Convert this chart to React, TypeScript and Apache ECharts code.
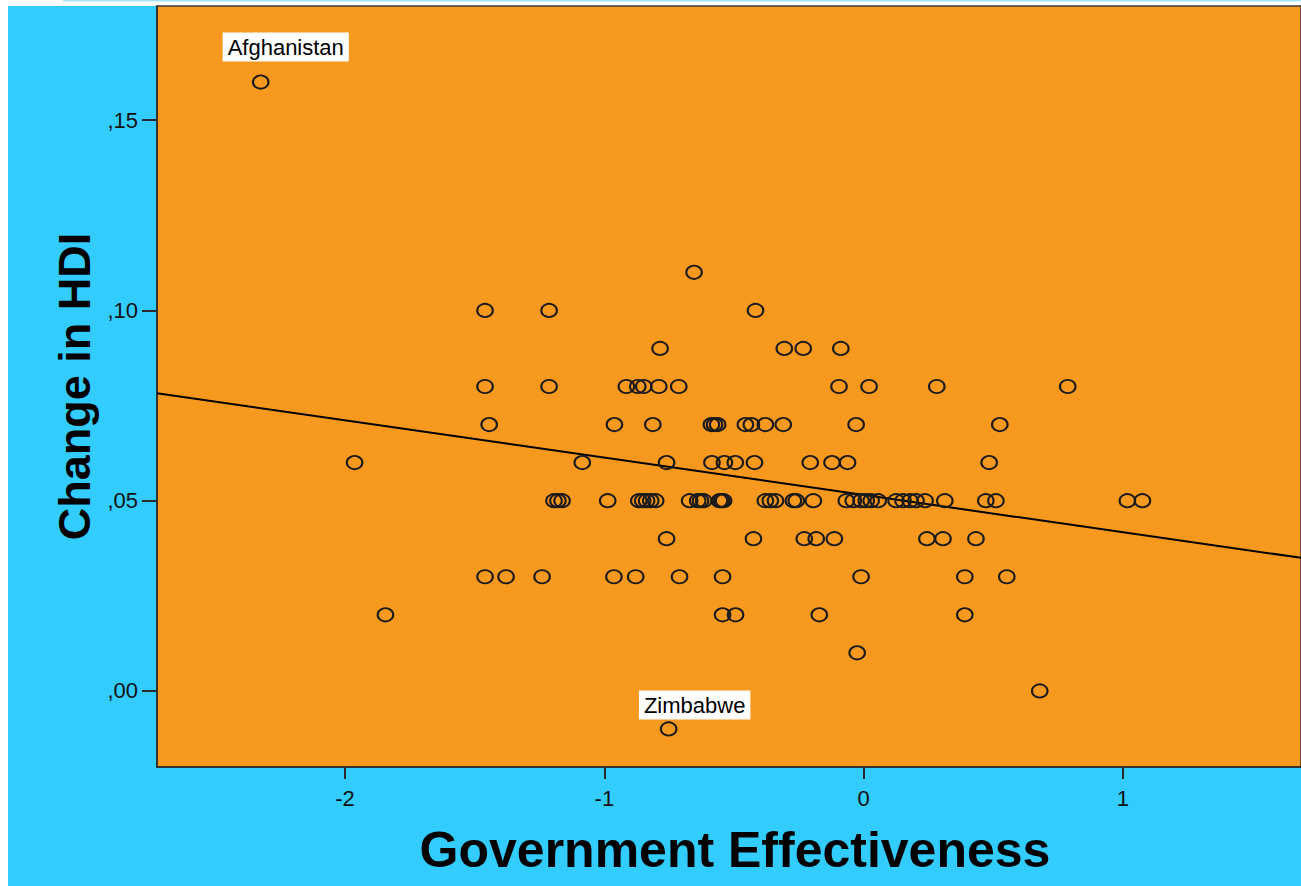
import React, { useEffect, useRef } from "react";
import * as echarts from "echarts";

// Axis ranges
const xMin = -2.725;
const xMax = 1.6865;
const yMin = -0.02;
const yMax = 0.18;
const xTickValues = [-2, -1, 0, 1];
const xTickLabels = ["-2", "-1", "0", "1"];
const yTickValues = [0, 0.05, 0.1, 0.15];
const yTickLabels = [",00", ",05", ",10", ",15"];

// Change in HDI levels and the Government Effectiveness values of the countries at each level
const hdiLevels = [0.11, 0.1, 0.09, 0.08, 0.07, 0.06, 0.05, 0.04, 0.03, 0.02, 0.01, 0.0];
const govEffAt011 = [-0.654];
const govEffAt010 = [-1.46, -1.213, -0.417];
const govEffAt009 = [-0.785, -0.306, -0.233, -0.088];
const govEffAt008 = [-1.46, -1.213, -0.915, -0.871, -0.848, -0.79, -0.713, -0.095, 0.021, 0.282, 0.787];
const govEffAt007 = [-1.444, -0.961, -0.813, -0.587, -0.575, -0.563, -0.456, -0.433, -0.379, -0.31, -0.029, 0.525];
const govEffAt006 = [-1.963, -1.085, -0.76, -0.585, -0.537, -0.495, -0.421, -0.206, -0.122, -0.062, 0.484];
const govEffAt005 = [
  -1.194, -1.179, -1.163, -0.987, -0.867, -0.852, -0.837, -0.821, -0.802, -0.671, -0.64, -0.629, -0.617,
  -0.556, -0.548, -0.54, -0.379, -0.36, -0.34, -0.271, -0.26, -0.194, -0.067, -0.04, -0.01, 0.01, 0.029,
  0.056, 0.125, 0.152, 0.179, 0.202, 0.237, 0.313, 0.471, 0.51, 1.017, 1.075,
];
const govEffAt004 = [-0.76, -0.425, -0.229, -0.183, -0.113, 0.244, 0.306, 0.433];
const govEffAt003 = [-1.46, -1.379, -1.24, -0.963, -0.879, -0.71, -0.544, -0.01, 0.39, 0.552];
const govEffAt002 = [-1.844, -0.544, -0.494, -0.171, 0.39];
const govEffAt001 = [-0.025];
const govEffAt000 = [0.679];
const govEffByLevel = [
  govEffAt011, govEffAt010, govEffAt009, govEffAt008, govEffAt007, govEffAt006,
  govEffAt005, govEffAt004, govEffAt003, govEffAt002, govEffAt001, govEffAt000,
];

// Labelled countries
const labelledNames = ["Afghanistan", "Zimbabwe"];
const labelledGovEff = [-2.325, -0.752];
const labelledHdi = [0.16, -0.01];

// Linear fit line
const fitIntercept = 0.0515;
const fitSlope = -0.0098;

const CYAN = "#33CCFF";
const ORANGE = "#F8991F";
const INK = "#1b1b1b";
const FONT = 'Arial, "Liberation Sans", sans-serif';

export default function App() {
  const ref = useRef<HTMLDivElement>(null);

  useEffect(() => {
    if (!ref.current) return;
    const chart = echarts.init(ref.current, undefined, { renderer: "svg" });

    const points: number[][] = [];
    hdiLevels.forEach((lvl, i) => {
      govEffByLevel[i].forEach((g) => points.push([g, lvl]));
    });

    const labelOffsets = [
      [25, -8],
      [26, 3],
    ];
    const labelled = labelledNames.map((name, i) => ({
      name,
      value: [labelledGovEff[i], labelledHdi[i]],
      label: {
        show: true,
        formatter: name,
        position: "top",
        offset: labelOffsets[i],
        backgroundColor: "#ffffff",
        opacity: 1,
        color: "#000",
        fontFamily: FONT,
        fontSize: 22,
        padding: [4, 5, 3, 5],
      },
    }));

    const fit = [
      [xMin, fitIntercept + fitSlope * xMin],
      [xMax, fitIntercept + fitSlope * xMax],
    ];

    const circleStyle = { color: "transparent", borderColor: INK, borderWidth: 2, opacity: 1 };
    const circleSize = [15.5, 13.2];

    chart.setOption({
      animation: false,
      backgroundColor: "#ffffff",
      graphic: [
        { type: "rect", z: -10, shape: { x: 8, y: 6, width: 1293, height: 880 }, style: { fill: CYAN } },
        { type: "rect", z: -10, shape: { x: 63, y: 0, width: 1238, height: 1.5 }, style: { fill: "#A5E6FF" } },
      ],
      grid: {
        left: 157,
        top: 6,
        width: 1147,
        height: 761,
        show: true,
        backgroundColor: ORANGE,
        borderColor: "#3a3a3a",
        borderWidth: 1.5,
      },
      xAxis: {
        type: "value",
        min: xMin,
        max: xMax,
        splitLine: { show: false },
        axisLine: { show: true, onZero: false, lineStyle: { color: "#2a2a2a", width: 1.5 } },
        axisTick: { show: true, customValues: xTickValues, length: 12, lineStyle: { color: "#2a2a2a", width: 2 } },
        axisLabel: {
          customValues: xTickValues,
          formatter: (v: number) => xTickLabels[xTickValues.indexOf(Math.round(v))] ?? "",
          margin: 20,
          color: "#111",
          fontFamily: FONT,
          fontSize: 22,
        },
        name: "Government Effectiveness",
        nameLocation: "middle",
        nameGap: 58,
        nameTextStyle: { color: "#000", fontFamily: FONT, fontSize: 50, fontWeight: "bold", padding: [0, 0, 0, 12] },
      },
      yAxis: {
        type: "value",
        min: yMin,
        max: yMax,
        splitLine: { show: false },
        axisLine: { show: true, onZero: false, lineStyle: { color: "#2a2a2a", width: 1.5 } },
        axisTick: { show: true, customValues: yTickValues, length: 15, lineStyle: { color: "#2a2a2a", width: 2 } },
        axisLabel: {
          customValues: yTickValues,
          formatter: (v: number) => {
            const idx = yTickValues.findIndex((t) => Math.abs(t - v) < 1e-6);
            return idx >= 0 ? yTickLabels[idx] : "";
          },
          margin: 19,
          color: "#111",
          fontFamily: FONT,
          fontSize: 22,
        },
        name: "Change in HDI",
        nameLocation: "middle",
        nameRotate: 90,
        nameGap: 56,
        nameTextStyle: { color: "#000", fontFamily: FONT, fontSize: 45, fontWeight: "bold" },
      },
      series: [
        {
          type: "line",
          data: fit,
          symbol: "none",
          lineStyle: { color: "#000", width: 2 },
          silent: true,
          z: 1,
        },
        {
          type: "scatter",
          data: points,
          symbol: "circle",
          symbolSize: circleSize,
          itemStyle: circleStyle,
          z: 2,
        },
        {
          type: "scatter",
          data: labelled,
          symbol: "circle",
          symbolSize: circleSize,
          itemStyle: circleStyle,
          z: 3,
        },
      ],
    });

    return () => chart.dispose();
  }, []);

  return (
    <div
      ref={ref}
      style={{ position: "absolute", left: 0, top: 0, width: 1301, height: 886 }}
    />
  );
}
